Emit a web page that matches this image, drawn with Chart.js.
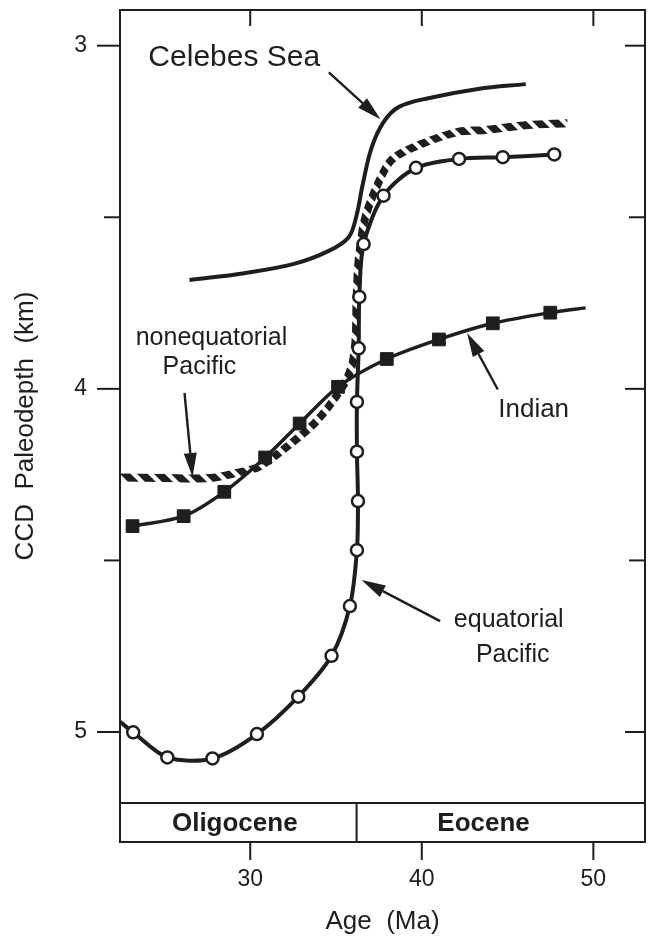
<!DOCTYPE html>
<html>
<head>
<meta charset="utf-8">
<script src="https://cdn.jsdelivr.net/npm/chart.js@4.4.1/dist/chart.umd.min.js"></script>
<style>
  html, body { margin: 0; padding: 0; background: #fff; }
  canvas { display: block; }
</style>
</head>
<body>
<canvas id="ccdChart" width="655" height="938"></canvas>
<script>
// equatorial Pacific (open circles) - first value is where the curve leaves the axis
const eqAge   = [22.41, 23.18, 25.17, 27.80, 30.39, 32.80, 34.74, 35.81, 36.22, 36.28, 36.22, 36.22, 36.32, 36.36, 36.61, 37.77, 39.66, 42.17, 44.72, 47.72];
const eqDepth = [4.970, 5.001, 5.074, 5.077, 5.006, 4.897, 4.778, 4.633, 4.470, 4.327, 4.183, 4.038, 3.882, 3.732, 3.578, 3.437, 3.356, 3.330, 3.325, 3.317];

// Indian Ocean (filled squares) - last value is the end of the line
const indAge   = [23.14, 26.12, 28.49, 30.87, 32.88, 35.12, 37.96, 41.00, 44.14, 47.49, 49.55];
const indDepth = [4.400, 4.371, 4.300, 4.200, 4.101, 3.994, 3.913, 3.856, 3.809, 3.778, 3.764];

// Celebes Sea (plain line)
const celAge   = [26.46, 29.65, 32.55, 34.58, 35.74, 36.20, 36.55, 37.07, 37.77, 38.64, 40.38, 43.28, 46.06];
const celDepth = [3.683, 3.663, 3.636, 3.598, 3.558, 3.494, 3.406, 3.298, 3.223, 3.179, 3.153, 3.126, 3.112];

// nonequatorial Pacific (hatched band)
const neqAge   = [22.41, 25.01, 27.62, 29.19, 30.52, 32.26, 33.83, 35.33, 35.91, 36.14, 36.20, 36.32, 36.67, 37.36, 38.23, 39.80, 42.12, 43.68, 46.17, 48.49];
const neqDepth = [4.258, 4.260, 4.260, 4.245, 4.227, 4.164, 4.096, 3.998, 3.936, 3.858, 3.741, 3.625, 3.508, 3.412, 3.333, 3.290, 3.251, 3.246, 3.231, 3.226];

// epochs along the bottom
const epochNames = ['Oligocene', 'Eocene'];
const epochFrom  = [22.41, 36.2];
const epochTo    = [53.01, 53.01];
const epochLabelAt = [29.1, 43.6];

const ageMin = 22.41, ageMax = 53.01;
const depthMin = 2.896, depthMax = 5.3205, plotBottom = 5.207;

const ink = '#1e1e1e';
const font = '"Liberation Sans", Arial, Helvetica, sans-serif';

// labels and arrows, placed in data units
const notes = [
  { text: 'Celebes Sea', age: 29.07, depth: 3.059, size: 30 },
  { text: 'nonequatorial', age: 27.74, depth: 3.872, size: 25 },
  { text: 'Pacific', age: 27.04, depth: 3.957, size: 25 },
  { text: 'Indian', age: 46.52, depth: 4.081, size: 26 },
  { text: 'equatorial', age: 45.07, depth: 4.694, size: 25 },
  { text: 'Pacific', age: 45.30, depth: 4.796, size: 25 }
];
const arrows = [
  { from: [34.58, 3.078], to: [37.59, 3.214] },
  { from: [26.17, 4.012], to: [26.64, 4.257] },
  { from: [44.43, 4.002], to: [42.64, 3.837] },
  { from: [41.07, 4.677], to: [36.49, 4.557] }
];

const pts = (xs, ys) => xs.map((x, i) => ({ x: x, y: ys[i] }));

// diagonal black/white stripes ("\") for the hatched curve
function hatch() {
  const n = 17;
  const c = document.createElement('canvas');
  c.width = n; c.height = n;
  const g = c.getContext('2d');
  g.fillStyle = ink;
  g.fillRect(0, 0, n, n);
  g.strokeStyle = '#fff';
  g.lineWidth = 4.4;
  [-n, 0, n].forEach(k => { g.beginPath(); g.moveTo(k - 4, -4); g.lineTo(k + n + 4, n + 4); g.stroke(); });
  return g.createPattern(c, 'repeat');
}

const decorations = {
  id: 'decorations',
  afterDraw(chart) {
    const ctx = chart.ctx, a = chart.chartArea, xS = chart.scales.x, yS = chart.scales.y;
    ctx.save();
    ctx.strokeStyle = ink;
    ctx.fillStyle = ink;
    ctx.lineWidth = 2;
    const seg = (x1, y1, x2, y2) => { ctx.beginPath(); ctx.moveTo(x1, y1); ctx.lineTo(x2, y2); ctx.stroke(); };

    // frame and epoch band
    ctx.strokeRect(a.left, a.top, a.right - a.left, a.bottom - a.top);
    const bandTop = yS.getPixelForValue(plotBottom);
    seg(a.left, bandTop, a.right, bandTop);
    ctx.font = 'bold 26px ' + font;
    ctx.textAlign = 'center';
    ctx.textBaseline = 'middle';
    epochNames.forEach((name, i) => {
      if (i > 0) { const px = xS.getPixelForValue(epochFrom[i]); seg(px, bandTop, px, a.bottom); }
      ctx.fillText(name, xS.getPixelForValue(epochLabelAt[i]), (bandTop + a.bottom) / 2 + 1);
    });

    // tick marks: outside on left/bottom, inside on right/top
    yS.ticks.forEach(t => {
      const py = yS.getPixelForValue(t.value);
      const major = Number.isInteger(t.value);
      seg(a.left - (major ? 23 : 16), py, a.left, py);
      seg(a.right - (major ? 20 : 16), py, a.right, py);
    });
    xS.ticks.forEach(t => {
      const px = xS.getPixelForValue(t.value);
      seg(px, a.top, px, a.top + 16);
      seg(px, a.bottom, px, a.bottom + 18);
    });

    // labels
    ctx.textBaseline = 'alphabetic';
    notes.forEach(n => {
      ctx.font = n.size + 'px ' + font;
      ctx.fillText(n.text, xS.getPixelForValue(n.age), yS.getPixelForValue(n.depth));
    });

    // arrows
    ctx.lineWidth = 2.4;
    arrows.forEach(ar => {
      const x1 = xS.getPixelForValue(ar.from[0]), y1 = yS.getPixelForValue(ar.from[1]);
      const x2 = xS.getPixelForValue(ar.to[0]), y2 = yS.getPixelForValue(ar.to[1]);
      const ang = Math.atan2(y2 - y1, x2 - x1);
      const len = 24, half = 6.5;
      const bx = x2 - len * Math.cos(ang), by = y2 - len * Math.sin(ang);
      seg(x1, y1, bx, by);
      ctx.beginPath();
      ctx.moveTo(x2, y2);
      ctx.lineTo(bx + half * Math.sin(ang), by - half * Math.cos(ang));
      ctx.lineTo(bx - half * Math.sin(ang), by + half * Math.cos(ang));
      ctx.closePath();
      ctx.fill();
    });
    ctx.restore();
  }
};

new Chart(document.getElementById('ccdChart'), {
  type: 'line',
  data: {
    datasets: [
      {
        label: 'equatorial Pacific',
        data: pts(eqAge, eqDepth),
        borderColor: ink, borderWidth: 4, tension: 0.3,
        pointRadius: eqAge.map((v, i) => i === 0 ? 0 : 6),
        pointBackgroundColor: '#fff', pointBorderColor: ink, pointBorderWidth: 2.5
      },
      {
        label: 'Indian',
        data: pts(indAge, indDepth),
        borderColor: ink, borderWidth: 3.5, tension: 0.3,
        pointStyle: 'rect',
        pointRadius: indAge.map((v, i) => i === indAge.length - 1 ? 0 : 9),
        pointBackgroundColor: ink, pointBorderColor: ink, pointBorderWidth: 1
      },
      {
        label: 'Celebes Sea',
        data: pts(celAge, celDepth),
        borderColor: ink, borderWidth: 4, tension: 0.35, pointRadius: 0
      },
      {
        label: 'nonequatorial Pacific',
        data: pts(neqAge, neqDepth),
        borderColor: hatch(), borderWidth: 8, tension: 0.3, pointRadius: 0,
        borderCapStyle: 'butt'
      }
    ]
  },
  options: {
    responsive: false,
    animation: false,
    layout: { padding: { top: 10, right: 7, left: 0, bottom: 0 } },
    plugins: { legend: { display: false }, tooltip: { enabled: false } },
    scales: {
      x: {
        type: 'linear', min: ageMin, max: ageMax,
        grid: { display: false, drawTicks: false },
        border: { display: false },
        ticks: { stepSize: 10, includeBounds: false, padding: 24, color: ink, font: { family: font, size: 23 } },
        title: { display: true, text: 'Age  (Ma)', color: ink, font: { family: font, size: 26 }, padding: { top: 0, bottom: 1 } },
        afterFit: s => { s.height = 96; s.paddingLeft = 0; s.paddingRight = 0; }
      },
      y: {
        type: 'linear', reverse: true, min: depthMin, max: depthMax,
        grid: { display: false, drawTicks: false },
        border: { display: false },
        ticks: {
          stepSize: 0.5, includeBounds: false, autoSkip: false, padding: 33, color: ink,
          font: { family: font, size: 23 },
          callback: v => Number.isInteger(v) ? String(v) : ''
        },
        title: { display: true, text: 'CCD  Paleodepth  (km)', color: ink, font: { family: font, size: 26 }, padding: { top: 10, bottom: 0 } },
        afterFit: s => { s.width = 120; s.paddingTop = 0; s.paddingBottom = 0; }
      }
    }
  },
  plugins: [decorations]
});
</script>
</body>
</html>
